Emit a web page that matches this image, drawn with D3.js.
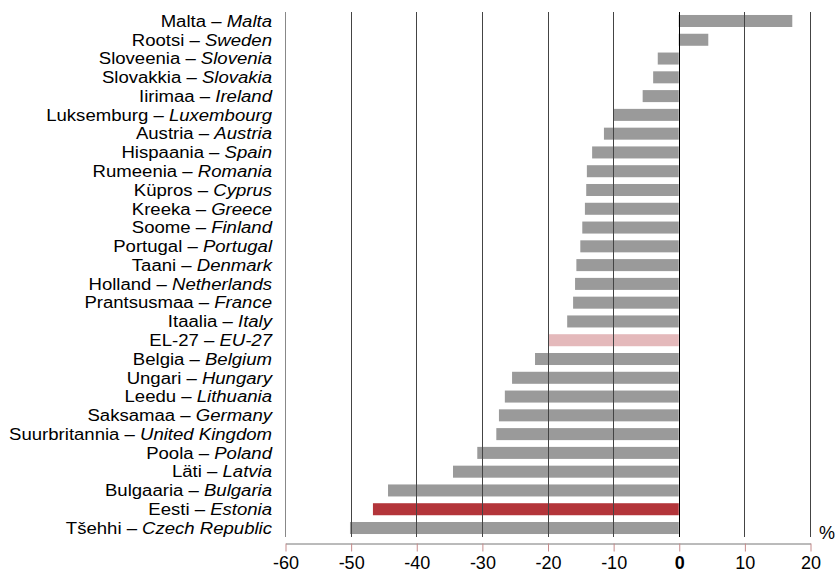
<!DOCTYPE html>
<html>
<head>
<meta charset="utf-8">
<script src="https://cdn.jsdelivr.net/npm/d3@7"></script>
<style>
  body { margin: 0; background: #fff; }
  text { font-family: "Liberation Sans", Arial, sans-serif; }
</style>
</head>
<body>
<div id="chart-area"></div>
<script>
// labels, Estonian name + English name
var namesEt = ["Malta", "Rootsi", "Sloveenia", "Slovakkia", "Iirimaa", "Luksemburg", "Austria",
    "Hispaania", "Rumeenia", "Küpros", "Kreeka", "Soome", "Portugal", "Taani", "Holland",
    "Prantsusmaa", "Itaalia", "EL-27", "Belgia", "Ungari", "Leedu", "Saksamaa", "Suurbritannia",
    "Poola", "Läti", "Bulgaaria", "Eesti", "Tšehhi"]
var namesEn = ["Malta", "Sweden", "Slovenia", "Slovakia", "Ireland", "Luxembourg", "Austria",
    "Spain", "Romania", "Cyprus", "Greece", "Finland", "Portugal", "Denmark", "Netherlands",
    "France", "Italy", "EU-27", "Belgium", "Hungary", "Lithuania", "Germany", "United Kingdom",
    "Poland", "Latvia", "Bulgaria", "Estonia", "Czech Republic"]
var values = [17.3, 4.5, -3.2, -3.9, -5.5, -10.0, -11.4, -13.2, -14.0, -14.1, -14.3, -14.7,
    -15.0, -15.6, -15.8, -16.1, -17.0, -19.8, -21.9, -25.4, -26.5, -27.4, -27.8, -30.7,
    -34.4, -44.3, -46.6, -50.1]
var xTicks = [-60, -50, -40, -30, -20, -10, 0, 10, 20]

var data = namesEt.map((d, i) => ({et: d, en: namesEn[i], value: values[i]}))

var cw = 835, ch = 574

var svg = d3.select("#chart-area").append("svg")
    .attr("width", cw)
    .attr("height", ch)

var x = d3.scaleLinear()
    .domain([-60, 20])
    .range([285, 810])

var y = d3.scaleBand()
    .domain(namesEt)
    .range([11.6, 537.4])
    .paddingInner(0.36)
    .paddingOuter(0.18)

function barColor(d) {
    if (d.et == "Eesti") return "#b3353a"
    if (d.et == "EL-27") return "#e4b9bb"
    return "#9a9a9a"
}

svg.selectAll("rect.bar")
    .data(data).enter().append("rect")
        .attr("class", "bar")
        .attr("x", d => x(Math.min(0, d.value)))
        .attr("y", d => y(d.et))
        .attr("width", d => Math.abs(x(d.value) - x(0)))
        .attr("height", y.bandwidth())
        .attr("fill", barColor)

// vertical grid lines over the bars
svg.selectAll("line.grid")
    .data(xTicks).enter().append("line")
        .attr("class", "grid")
        .attr("x1", d => Math.round(x(d)) + 0.5)
        .attr("x2", d => Math.round(x(d)) + 0.5)
        .attr("y1", 12)
        .attr("y2", 537)
        .attr("stroke", d => d == -60 ? "#888" : (d == 0 ? "#000" : "#444"))
        .attr("stroke-width", 1)

var bottomAxis = d3.axisBottom(x)
    .tickValues(xTicks)
    .tickSize(8)
    .tickSizeOuter(0)
    .tickPadding(5)

var ax = svg.append("g")
    .attr("class", "bottom axis")
    .attr("transform", "translate(0.5, 543.5)")
    .call(bottomAxis)

ax.select(".domain").attr("stroke", "#777")
ax.selectAll(".tick line").attr("stroke", "#c58a8a")
ax.selectAll(".tick text")
    .attr("font-size", "18px")
    .attr("fill", "#000")
    .attr("font-family", "Liberation Sans, Arial, sans-serif")
    .attr("font-weight", d => d == 0 ? "bold" : "normal")
    .text(d => d)

// category labels, slightly widened like the original
var lab = svg.selectAll("text.cat")
    .data(data).enter().append("text")
        .attr("class", "cat")
        .attr("transform", d => "translate(272," + (y(d.et) + y.bandwidth() / 2) + ") scale(1.16,1)")
        .attr("dy", "0.36em")
        .attr("text-anchor", "end")
        .attr("font-size", "16px")
        .attr("fill", "#000")

lab.append("tspan").text(d => d.et + " – ")
lab.append("tspan").attr("font-style", "italic").text(d => d.en)

svg.append("text")
    .attr("x", 819)
    .attr("y", 539)
    .attr("font-size", "18px")
    .text("%")
</script>
</body>
</html>
